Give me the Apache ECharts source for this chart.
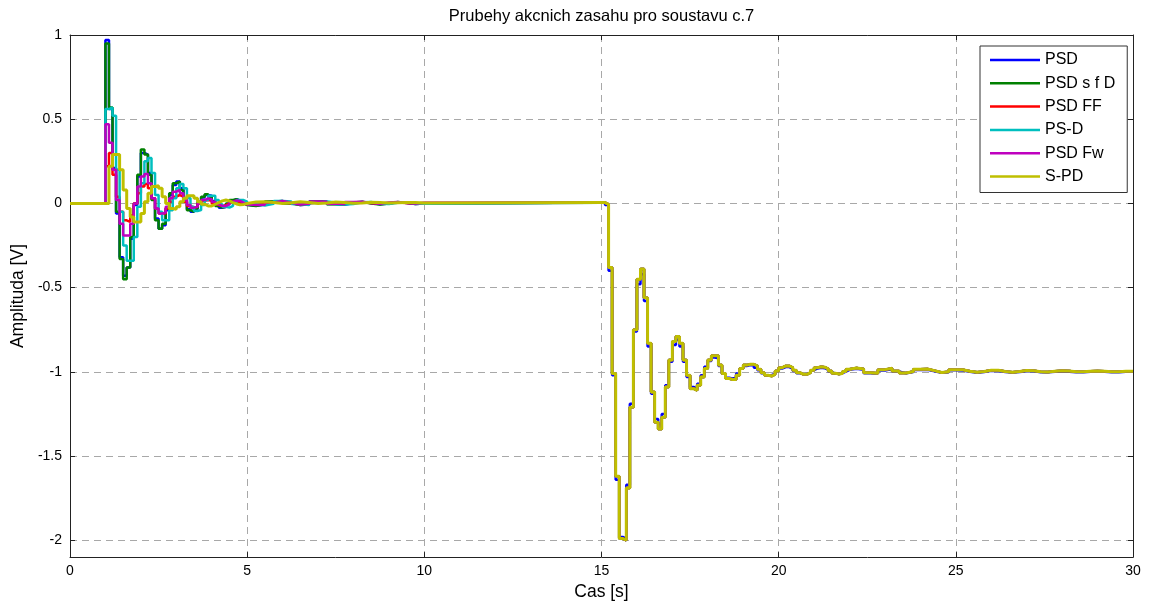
<!DOCTYPE html>
<html>
<head>
<meta charset="utf-8">
<script src="https://cdn.jsdelivr.net/npm/echarts@6/dist/echarts.min.js"></script>
<style>
html,body{margin:0;padding:0;background:#fff;}
#chart{width:1152px;height:606px;}
</style>
</head>
<body>
<div id="chart"></div>
<script>
// ---- data ----
const seriesNames = ['PSD', 'PSD s f D', 'PSD FF', 'PS-D', 'PSD Fw', 'S-PD'];
const seriesColors = ['#0000FF', '#008000', '#FF0000', '#00BFBF', '#BF00BF', '#BFBF00'];

// setpoint response, sampled every 0.1 s from t = 1.0 s to 5.0 s
const setStart = 1.0, setStep = 0.1;
const psdSet = [0.97,0.56,0.21,-0.06,-0.32,-0.43,-0.38,-0.21,-0.01,0.16,0.30,0.29,0.18,0.03,-0.09,-0.15,-0.13,-0.04,0.05,0.11,0.13,0.09,0.02,-0.035,-0.05,-0.035,0.0,0.035,0.05,0.045,0.015,-0.01,-0.025,-0.022,-0.005,0.015,0.025,0.018,0.003,-0.008,-0.014];
const psdSfdSet = [0.95,0.57,0.20,-0.05,-0.33,-0.45,-0.38,-0.20,0.0,0.17,0.32,0.29,0.17,0.02,-0.10,-0.15,-0.12,-0.03,0.06,0.12,0.13,0.08,0.01,-0.04,-0.05,-0.03,0.01,0.04,0.055,0.04,0.01,-0.015,-0.025,-0.02,0.0,0.02,0.025,0.015,0.0,-0.01,-0.015];
const psdFfSet = [0.22,0.30,0.17,0.04,-0.05,-0.10,-0.11,-0.07,0.0,0.06,0.10,0.115,0.09,0.03,-0.03,-0.06,-0.06,-0.03,0.01,0.04,0.05,0.04,0.01,-0.015,-0.025,-0.02,0.0,0.015,0.02,0.015,0.0,-0.01,-0.015,-0.01,0.0,0.01,0.012,0.008,0.0,-0.006,-0.008];
const psMinusDSet = [0.56,0.57,0.52,0.20,-0.05,-0.25,-0.34,-0.34,-0.20,-0.02,0.12,0.25,0.27,0.18,0.05,-0.05,-0.10,-0.10,-0.04,0.03,0.09,0.115,0.09,0.03,-0.02,-0.045,-0.04,-0.01,0.02,0.045,0.045,0.02,-0.005,-0.02,-0.025,-0.015,0.005,0.02,0.02,0.01,-0.005];
const psdFwSet = [0.47,0.36,0.20,0.02,-0.12,-0.19,-0.19,-0.12,0.0,0.10,0.16,0.175,0.12,0.03,-0.03,-0.06,-0.055,-0.02,0.03,0.07,0.08,0.06,0.02,-0.01,-0.025,-0.02,0.0,0.02,0.03,0.025,0.01,-0.005,-0.015,-0.015,-0.005,0.01,0.018,0.015,0.005,-0.005,-0.01];
const sPdSet = [0.0,0.22,0.29,0.29,0.20,0.08,-0.03,-0.08,-0.11,-0.11,-0.06,0.01,0.06,0.10,0.105,0.09,0.04,0.0,-0.03,-0.035,-0.02,0.01,0.03,0.045,0.045,0.03,0.01,-0.005,-0.015,-0.015,-0.005,0.005,0.015,0.02,0.015,0.005,-0.003,-0.008,-0.006,0.0,0.008];

// settling, sampled every 0.25 s from t = 5.25 s to 10.0 s (held until 15 s)
const settleStart = 5.25, settleStep = 0.25;
const psdSettle = [-0.006,0.01,0.014,0.002,-0.009,-0.006,0.01,0.011,-0.003,-0.008,0.003,0.009,0.002,-0.005,-0.001,0.007,0.004,-0.003,0.0,0.005];
const psdSfdSettle = [-0.005,0.012,0.015,0.0,-0.01,-0.005,0.012,0.01,-0.005,-0.008,0.005,0.01,0.0,-0.006,0.0,0.008,0.003,-0.004,0.0,0.006];
const psdFfSettle = [0.0,0.008,0.008,0.0,-0.005,0.0,0.007,0.006,0.0,-0.003,0.003,0.006,0.002,-0.002,0.002,0.005,0.003,0.0,0.002,0.004];
const psMinusDSettle = [-0.012,-0.002,0.014,0.012,-0.004,-0.01,0.002,0.012,0.006,-0.006,-0.004,0.007,0.008,-0.002,-0.004,0.004,0.006,0.0,-0.002,0.004];
const psdFwSettle = [-0.008,0.006,0.014,0.004,-0.006,-0.002,0.012,0.01,-0.002,-0.004,0.008,0.01,0.002,-0.002,0.005,0.008,0.003,0.0,0.004,0.006];
const sPdSettle = [0.01,0.006,0.0,0.004,0.01,0.006,0.0,0.003,0.008,0.006,0.001,0.003,0.007,0.005,0.002,0.004,0.006,0.005,0.003,0.005];

// load disturbance response, every 0.1 s from t = 15.0 s to 22.0 s
const loadStart = 15.0, loadStep = 0.1;
const psdLoad = [0.004,-0.01,-0.40,-1.02,-1.64,-1.98,-1.99,-1.67,-1.19,-0.76,
  -0.48,-0.42,-0.58,-0.85,-1.13,-1.28,-1.31,-1.25,-1.08,-0.94,
  -0.84,-0.81,-0.85,-0.94,-1.03,-1.09,-1.10,-1.07,-1.02,-0.97,
  -0.935,-0.915,-0.92,-0.965,-1.01,-1.035,-1.04,-1.035,-1.01,-0.98,
  -0.965,-0.96,-0.962,-0.975,-0.99,-1.008,-1.02,-1.02,-1.01,-0.995,
  -0.98,-0.972,-0.972,-0.982,-0.995,-1.008,-1.015,-1.013,-1.003,-0.99,
  -0.98,-0.976,-0.978,-0.988,-1.0,-1.01,-1.013,-1.008,-0.998,-0.988,
  -0.982];
const otherLoad = [0.005,-0.006,-0.38,-1.01,-1.62,-1.99,-2.0,-1.69,-1.21,-0.75,
  -0.45,-0.39,-0.56,-0.83,-1.12,-1.30,-1.34,-1.27,-1.09,-0.93,
  -0.82,-0.79,-0.83,-0.93,-1.02,-1.10,-1.11,-1.08,-1.03,-0.98,
  -0.93,-0.905,-0.905,-0.96,-1.01,-1.04,-1.045,-1.045,-1.02,-0.98,
  -0.96,-0.955,-0.955,-0.965,-0.985,-1.005,-1.02,-1.025,-1.015,-0.995,
  -0.975,-0.965,-0.965,-0.975,-0.99,-1.005,-1.015,-1.015,-1.005,-0.99,
  -0.975,-0.97,-0.972,-0.982,-0.995,-1.008,-1.013,-1.01,-0.998,-0.985,
  -0.977];

// tail, every 0.2 s from t = 22.2 s to 30.0 s
const tailStart = 22.2, tailStep = 0.2;
const psdTail = [-0.988,-1.008,-1.01,-0.992,-0.984,-0.998,-1.009,-1.001,-0.989,-0.988,-0.997,-1.006,-1.003,-0.991,-0.992,-1.0,-1.005,-1.001,-0.994,-0.995,-1.001,-1.004,-1.001,-0.996,-0.997,-1.002,-1.003,-1.0,-0.998,-0.999,-1.002,-1.002,-1.0,-0.999,-0.999,-1.002,-1.002,-1.0,-0.999,-1.0];
const otherTail = [-0.983,-1.005,-1.008,-0.987,-0.979,-0.995,-1.007,-0.998,-0.984,-0.983,-0.993,-1.004,-1.0,-0.987,-0.988,-0.997,-1.003,-0.998,-0.99,-0.991,-0.998,-1.002,-0.998,-0.992,-0.993,-0.999,-1.001,-0.997,-0.994,-0.995,-0.999,-1.0,-0.997,-0.995,-0.996,-0.999,-0.999,-0.997,-0.996,-0.997];

const xTicks = [0, 5, 10, 15, 20, 25, 30];
const yTicks = [-2, -1.5, -1, -0.5, 0, 0.5, 1];

// ---- build ----
function r(v){ return Math.round(v * 1000) / 1000; }
function build(setV, settleV, loadV, tailV) {
  const pts = [[0, 0]];
  setV.forEach((v, i) => pts.push([r(setStart + i * setStep), v]));
  settleV.forEach((v, i) => pts.push([r(settleStart + i * settleStep), v]));
  loadV.forEach((v, i) => pts.push([r(loadStart + i * loadStep), v]));
  tailV.forEach((v, i) => pts.push([r(tailStart + i * tailStep), v]));
  return pts;
}
const seriesData = [
  build(psdSet, psdSettle, psdLoad, psdTail),
  build(psdSfdSet, psdSfdSettle, otherLoad, otherTail),
  build(psdFfSet, psdFfSettle, otherLoad, otherTail),
  build(psMinusDSet, psMinusDSettle, otherLoad, otherTail),
  build(psdFwSet, psdFwSettle, otherLoad, otherTail),
  build(sPdSet, sPdSettle, otherLoad, otherTail)
];

const FONT = 'Liberation Sans, Arial, Helvetica, sans-serif';
const gridLine = { show: true, lineStyle: { color: '#a8a8a8', width: 1, type: [7, 5] } };
const axisCol = '#222';

const chart = echarts.init(document.getElementById('chart'), null, { renderer: 'canvas' });
chart.setOption({
  animation: false,
  backgroundColor: '#fff',
  graphic: [{
    type: 'text', x: 601.5, y: 16, z: 10,
    style: { text: 'Prubehy akcnich zasahu pro soustavu c.7', fill: '#000',
      font: '16.5px ' + FONT, align: 'center', verticalAlign: 'middle',
      textAlign: 'center', textVerticalAlign: 'middle' }
  }],
  grid: { left: 70, right: 19, top: 35, bottom: 48, containLabel: false },
  legend: {
    orient: 'vertical', left: 980, top: 46,
    padding: [5, 12, 7, 10], itemGap: 5.3, itemWidth: 50, itemHeight: 2.5,
    icon: 'rect', backgroundColor: '#fff', borderColor: '#333', borderWidth: 1,
    textStyle: { fontSize: 16, fontFamily: FONT, color: '#000', lineHeight: 18 },
    data: seriesNames
  },
  xAxis: [{
    type: 'value', min: 0, max: 30, interval: 5, position: 'bottom',
    name: 'Cas [s]', nameLocation: 'middle', nameGap: 25,
    nameTextStyle: { fontSize: 17.5, fontFamily: FONT, color: '#000' },
    axisLine: { show: true, onZero: false, lineStyle: { color: axisCol } },
    axisTick: { show: true, inside: true, length: 5, lineStyle: { color: axisCol } },
    axisLabel: { margin: 7, fontSize: 14, fontFamily: FONT, color: '#000' },
    splitLine: gridLine
  }, {
    type: 'value', min: 0, max: 30, interval: 5, position: 'top',
    axisLine: { show: true, onZero: false, lineStyle: { color: axisCol } },
    axisTick: { show: true, inside: true, length: 5, lineStyle: { color: axisCol } },
    axisLabel: { show: false }, splitLine: { show: false }
  }],
  yAxis: [{
    type: 'value', min: -2.1, max: 1, position: 'left',
    name: 'Amplituda [V]', nameLocation: 'middle', nameGap: 40, nameRotate: 90,
    nameTextStyle: { fontSize: 17.5, fontFamily: FONT, color: '#000' },
    axisLine: { show: true, onZero: false, lineStyle: { color: axisCol } },
    axisTick: { show: true, inside: true, length: 5, customValues: yTicks, lineStyle: { color: axisCol } },
    axisLabel: { margin: 8, fontSize: 14, fontFamily: FONT, color: '#000', customValues: yTicks },
    splitLine: gridLine
  }, {
    type: 'value', min: -2.1, max: 1, position: 'right',
    axisLine: { show: true, onZero: false, lineStyle: { color: axisCol } },
    axisTick: { show: true, inside: true, length: 5, customValues: yTicks, lineStyle: { color: axisCol } },
    axisLabel: { show: false }, splitLine: { show: false }
  }],
  series: seriesNames.map((name, i) => ({
    name: name, type: 'line', step: 'end', xAxisIndex: 0, yAxisIndex: 0,
    data: seriesData[i], showSymbol: false, symbol: 'none',
    lineStyle: { color: seriesColors[i], width: i === 5 ? 3 : 2.5 },
    itemStyle: { color: seriesColors[i] },
    emphasis: { disabled: true }
  }))
});
</script>
</body>
</html>
